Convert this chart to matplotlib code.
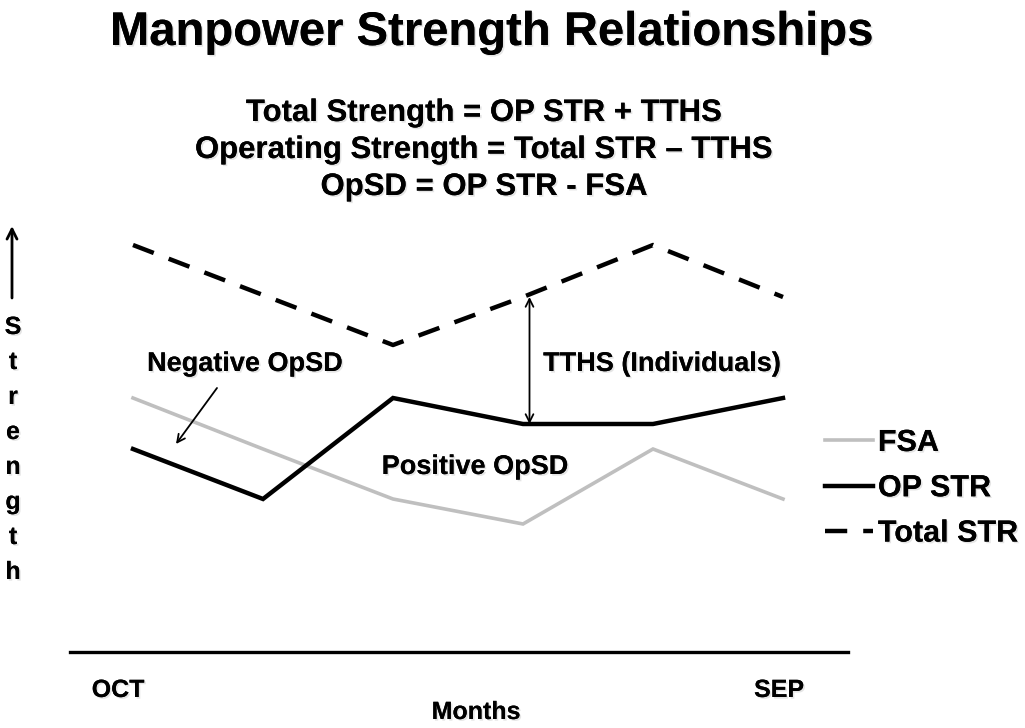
import matplotlib
matplotlib.use("Agg")
import matplotlib.pyplot as plt
import matplotlib.patheffects as pe

plt.rcParams['font.family'] = ['Liberation Sans', 'DejaVu Sans']
plt.rcParams['font.weight'] = 'bold'

# ---- data (arbitrary strength units) ----
months_idx = [0, 1, 2, 3, 4, 5]
tick_labels = ["OCT", "SEP"]
fsa = [25.4, 20.3, 15.3, 12.8, 20.3, 15.3]
op_str = [20.3, 15.3, 25.4, 22.8, 22.8, 25.4]
total_str = [40.7, 35.7, 30.7, 35.5, 40.7, 35.5]
series_labels = ["FSA", "OP STR", "Total STR"]

W, H = 1025, 728
fig = plt.figure(figsize=(W / 100, H / 100), dpi=100)

def fx(px):
    return px / W

def fy(py):
    return 1 - py / H

shadow = [pe.withSimplePatchShadow(offset=(1.2, -1.2), shadow_rgbFace="#999999", alpha=0.25),
          pe.Normal()]

# axes: pixel x 70..848, pixel y 220..652
ax = fig.add_axes([fx(70), fy(652), (848 - 70) / W, (652 - 220) / H])
ax.set_xlim((70 - 133) / 130, (848 - 133) / 130)
ax.set_ylim(0, 43.2)

l1, = ax.plot(months_idx, fsa, color="#bfbfbf", lw=2.6, solid_joinstyle='miter')
l2, = ax.plot(months_idx, op_str, color="black", lw=3.2, solid_joinstyle='miter')
l3, = ax.plot(months_idx, total_str, color="black", lw=3.2, dashes=(5, 3.6))

for s in ["top", "left", "right"]:
    ax.spines[s].set_visible(False)
ax.spines["bottom"].set_linewidth(2.4)
ax.set_xticks([])
ax.set_yticks([])

# TTHS double arrow between Total STR and OP STR at index 3
ax.annotate("", xy=(3.05, total_str[3]), xytext=(3.05, op_str[3]),
            arrowprops=dict(arrowstyle="<->", color="black", lw=1.3,
                            shrinkA=0, shrinkB=0, mutation_scale=14))

# Negative OpSD pointer
fig.add_artist(plt.Annotation("", xy=(fx(176), fy(444)), xytext=(fx(217), fy(388)),
                              xycoords='figure fraction', textcoords='figure fraction',
                              arrowprops=dict(arrowstyle="->", color="black", lw=1.3,
                                              shrinkA=0, shrinkB=0, mutation_scale=14)))

def T(x, y, s, size, **kw):
    fig.text(fx(x), fy(y), s, fontsize=size, ha="center", va="center",
             weight="bold", path_effects=shadow, **kw)

# texts
T(492, 33, "Manpower Strength Relationships", 34)
formulas = ["Total Strength = OP STR + TTHS",
            "Operating Strength = Total STR \u2013 TTHS",
            "OpSD = OP STR - FSA"]
for i, t in enumerate(formulas):
    T(484, 113 + i * 37, t, 22.4)

T(245, 364, "Negative OpSD", 19.5)
T(475, 467, "Positive OpSD", 19.5)
T(662, 364, "TTHS (Individuals)", 19.5)

# x labels
T(118, 690, tick_labels[0], 18)
T(779, 690, tick_labels[1], 18)
T(476, 712, "Months", 18)

# y label: up arrow and vertical letters
fig.add_artist(plt.Annotation("", xy=(fx(12), fy(226)), xytext=(fx(12), fy(298)),
                              xycoords='figure fraction', textcoords='figure fraction',
                              arrowprops=dict(arrowstyle="->", color="black", lw=2.0,
                                              shrinkA=0, shrinkB=0, mutation_scale=18)))
for i, ch in enumerate("Strength"):
    T(13, 327 + i * 35, ch, 18)

# legend
leg = fig.legend([l1, l2, l3], series_labels, loc="upper left",
                 bbox_to_anchor=(fx(825), fy(428)), frameon=False,
                 prop=dict(size=22, weight="bold"), handlelength=1.57,
                 handletextpad=0.16, labelspacing=0.5, borderpad=0, borderaxespad=0)
for t in leg.get_texts():
    t.set_path_effects(shadow)

fig.savefig("out.png", dpi=100)
